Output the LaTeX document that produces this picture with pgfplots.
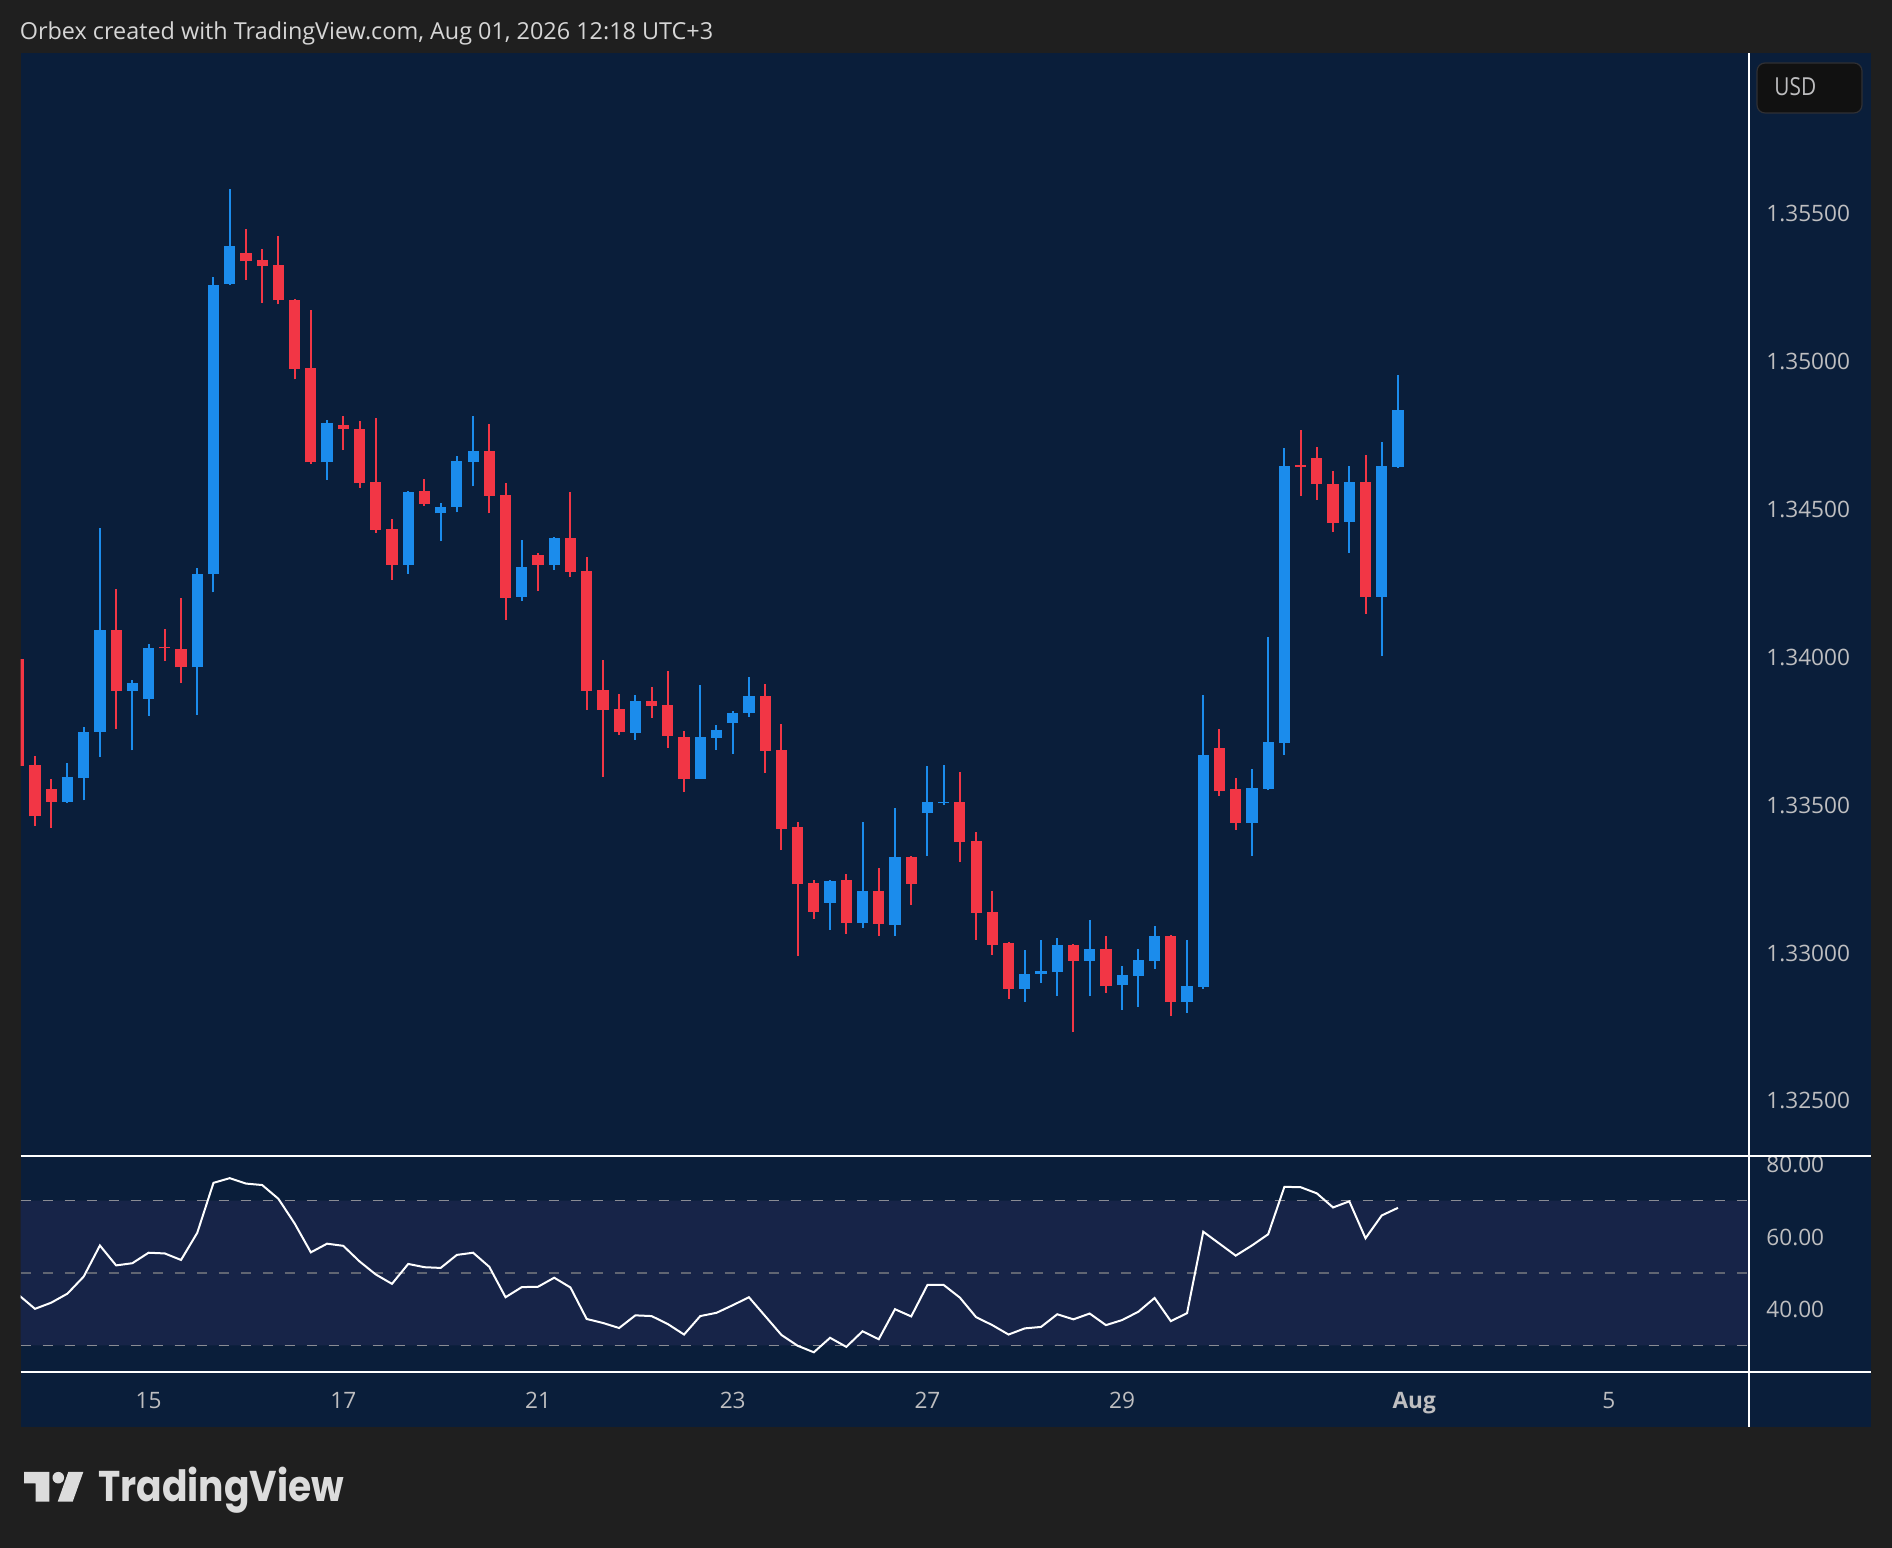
\documentclass[border=0pt]{standalone}
\usepackage{fontspec}
\setmainfont{Open Sans}
\newfontfamily\logofont{Poppins}
\usepackage{pgfplots}
\usepackage{pgfplotstable}
\pgfplotsset{compat=1.18}
\usepgfplotslibrary{fillbetween}
\pgfplotsset{/pgf/number format/assume math mode=true}

\definecolor{bgc}{RGB}{31,31,31}
\definecolor{panel}{RGB}{10,30,58}
\definecolor{band}{RGB}{23,36,72}
\definecolor{upc}{RGB}{27,140,236}
\definecolor{dnc}{RGB}{242,54,69}
\definecolor{lbl}{RGB}{190,190,192}
\definecolor{titlec}{RGB}{214,214,214}
\definecolor{dashA}{RGB}{138,140,148}
\definecolor{dashB}{RGB}{96,101,114}
\definecolor{obfill}{RGB}{18,56,62}
\definecolor{usdbg}{RGB}{17,17,17}
\definecolor{usdbd}{RGB}{48,48,52}
\definecolor{logoc}{RGB}{220,220,220}

\pgfplotstableread{
k o h l c
4 1.33510 1.33641 1.33507 1.33595
5 1.33589 1.33764 1.33515 1.33746
6 1.33747 1.34436 1.33663 1.34091
8 1.33886 1.33922 1.33684 1.33912
9 1.33859 1.34044 1.33802 1.34031
12 1.33965 1.34301 1.33805 1.34281
13 1.34282 1.35286 1.34219 1.35259
14 1.35261 1.35584 1.35258 1.35390
20 1.34658 1.34802 1.34599 1.34792
25 1.34312 1.34560 1.34282 1.34558
27 1.34486 1.34521 1.34391 1.34508
28 1.34509 1.34681 1.34489 1.34663
29 1.34661 1.34815 1.34577 1.34697
32 1.34204 1.34396 1.34190 1.34305
34 1.34312 1.34406 1.34295 1.34403
39 1.33744 1.33872 1.33720 1.33851
43 1.33588 1.33904 1.33587 1.33729
44 1.33727 1.33770 1.33686 1.33753
45 1.33777 1.33817 1.33672 1.33811
46 1.33811 1.33932 1.33797 1.33868
51 1.33168 1.33244 1.33077 1.33242
53 1.33100 1.33442 1.33083 1.33210
55 1.33093 1.33489 1.33056 1.33324
57 1.33472 1.33631 1.33326 1.33508
58 1.33506 1.33635 1.33499 1.33511
63 1.32877 1.33009 1.32833 1.32928
64 1.32928 1.33043 1.32897 1.32938
65 1.32934 1.33049 1.32853 1.33026
67 1.32972 1.33110 1.32853 1.33012
69 1.32890 1.32955 1.32806 1.32924
70 1.32921 1.33012 1.32816 1.32975
71 1.32972 1.33090 1.32945 1.33056
73 1.32833 1.33043 1.32796 1.32887
74 1.32884 1.33872 1.32877 1.33669
77 1.33439 1.33621 1.33327 1.33557
78 1.33554 1.34068 1.33550 1.33713
79 1.33709 1.34707 1.33669 1.34646
83 1.34457 1.34646 1.34352 1.34592
85 1.34203 1.34727 1.34003 1.34646
86 1.34643 1.34954 1.34640 1.34836
}\bull

\pgfplotstableread{
k o h l c
1 1.33993 1.34007 1.33618 1.33631
2 1.33635 1.33665 1.33428 1.33461
3 1.33554 1.33586 1.33423 1.33510
7 1.34091 1.34231 1.33758 1.33886
10 1.34034 1.34095 1.33988 1.34029
11 1.34027 1.34200 1.33913 1.33965
15 1.35367 1.35448 1.35275 1.35338
16 1.35344 1.35380 1.35199 1.35324
17 1.35326 1.35424 1.35193 1.35206
18 1.35208 1.35211 1.34939 1.34975
19 1.34978 1.35175 1.34654 1.34658
21 1.34785 1.34815 1.34700 1.34770
22 1.34771 1.34798 1.34573 1.34587
23 1.34592 1.34809 1.34421 1.34431
24 1.34433 1.34467 1.34262 1.34312
26 1.34562 1.34602 1.34512 1.34519
30 1.34697 1.34788 1.34486 1.34546
31 1.34548 1.34589 1.34125 1.34200
33 1.34345 1.34352 1.34223 1.34312
35 1.34403 1.34558 1.34271 1.34288
36 1.34290 1.34338 1.33821 1.33885
37 1.33887 1.33990 1.33595 1.33821
38 1.33824 1.33875 1.33736 1.33746
40 1.33851 1.33899 1.33794 1.33835
41 1.33838 1.33953 1.33693 1.33733
42 1.33731 1.33750 1.33543 1.33588
47 1.33868 1.33909 1.33608 1.33682
48 1.33685 1.33772 1.33347 1.33418
49 1.33424 1.33443 1.32989 1.33232
50 1.33234 1.33244 1.33114 1.33137
52 1.33244 1.33266 1.33063 1.33100
54 1.33208 1.33285 1.33056 1.33097
56 1.33324 1.33327 1.33162 1.33232
59 1.33510 1.33611 1.33307 1.33374
60 1.33378 1.33408 1.33043 1.33134
61 1.33137 1.33208 1.32992 1.33026
62 1.33033 1.33036 1.32843 1.32877
66 1.33026 1.33029 1.32731 1.32972
68 1.33012 1.33056 1.32863 1.32887
72 1.33056 1.33059 1.32786 1.32833
75 1.33692 1.33757 1.33530 1.33548
76 1.33554 1.33591 1.33415 1.33439
80 1.34650 1.34768 1.34545 1.34643
81 1.34673 1.34710 1.34531 1.34585
82 1.34585 1.34629 1.34423 1.34453
84 1.34592 1.34683 1.34146 1.34203
}\bear

\pgfplotstableread{
k r
1 43.9
2 40.1
3 41.8
4 44.3
5 49.0
6 57.6
7 52.1
8 52.7
9 55.6
10 55.4
11 53.6
12 61.1
13 74.9
14 76.2
15 74.7
16 74.3
17 70.5
18 63.7
19 55.7
20 58.1
21 57.5
22 53.2
23 49.6
24 47.0
25 52.5
26 51.6
27 51.4
28 55.0
29 55.6
30 51.7
31 43.3
32 46.1
33 46.2
34 48.7
35 46.0
36 37.3
37 36.2
38 34.8
39 38.3
40 38.1
41 35.9
42 33.0
43 38.1
44 39.0
45 41.1
46 43.3
47 38.1
48 32.9
49 29.9
50 28.1
51 32.1
52 29.6
53 33.9
54 31.7
55 40.0
56 38.0
57 46.7
58 46.7
59 43.2
60 37.8
61 35.6
62 33.0
63 34.7
64 35.1
65 38.6
66 37.2
67 38.8
68 35.6
69 37.0
70 39.3
71 43.1
72 36.7
73 38.9
74 61.4
75 58.1
76 54.8
77 57.6
78 60.7
79 73.8
80 73.7
81 72.0
82 68.1
83 69.8
84 59.6
85 65.9
86 68.0
}\rsi

\pgfplotsset{
  tvaxis/.style={
    anchor=south west, scale only axis, width=863.75pt,
    xmin=1.1063, xmax=107.572,
    axis line style={draw=none}, tick style={draw=none},
    yticklabel pos=right, scaled y ticks=false,
    yticklabel style={anchor=base west, inner sep=0pt, xshift=9pt, yshift=-4.2pt,
      font=\fontsize{11.3}{13}\selectfont, text=lbl},
    clip=true,
  },
  wick/.style={draw=none, forget plot, error bars/.cd, y dir=plus, y explicit,
    error mark=none, error bar style={draw=#1, line width=1pt}},
  body/.style={draw=none, forget plot, error bars/.cd, y dir=plus, y explicit,
    error mark=none, error bar style={draw=#1, line width=5.6pt}},
}

\begin{document}
\begin{tikzpicture}[x=0.5pt,y=0.5pt]
\fill[bgc] (0,0) rectangle (1892,1548);
\fill[panel] (20.5,121) rectangle (1871,1495);

% price pane
\begin{axis}[tvaxis, at={(10.25pt,196pt)}, height=551.5pt,
  ymin=1.3231196, ymax=1.360433, xtick=\empty,
  ytick={1.325,1.33,1.335,1.34,1.345,1.35,1.355},
  yticklabel style={/pgf/number format/.cd, fixed, fixed zerofill, precision=5}]
\addplot[wick=upc] table[x=k, y=l, y error expr=\thisrow{h}-\thisrow{l}] {\bull};
\addplot[wick=dnc] table[x=k, y=l, y error expr=\thisrow{h}-\thisrow{l}] {\bear};
\addplot[body=upc] table[x=k, y=o, y error expr={max(\thisrow{c}-\thisrow{o},0.00005)}] {\bull};
\addplot[body=dnc] table[x=k, y=c, y error expr={max(\thisrow{o}-\thisrow{c},0.00005)}] {\bear};
\end{axis}

% RSI pane
\begin{axis}[tvaxis, at={(10.25pt,87.85pt)}, height=108.15pt,
  ymin=22.57, ymax=82.32,
  xtick={9,21,33,45,57,69,87,99},
  xticklabels={15,17,21,23,27,29,\textbf{Aug},5},
  xticklabel style={anchor=base, inner sep=0pt, yshift=-18.1pt,
    font=\fontsize{11.3}{13}\selectfont, text=lbl},
  ytick={40,60,80},
  yticklabel style={/pgf/number format/.cd, fixed, fixed zerofill, precision=2}]
\addplot[fill=band, draw=none] coordinates {(0,30) (110,30) (110,70) (0,70) (0,30)};
\addplot[dashA, line width=0.8pt, dash pattern=on 5pt off 6pt] coordinates {(1.1063,70) (107.572,70)};
\addplot[dashB, line width=0.8pt, dash pattern=on 5pt off 6pt] coordinates {(1.1063,50) (107.572,50)};
\addplot[dashA, line width=0.8pt, dash pattern=on 5pt off 6pt] coordinates {(1.1063,30) (107.572,30)};
\addplot[name path=rsiA, draw=none] table[x=k, y=r] {\rsi};
\addplot[name path=obl, draw=none] coordinates {(1,70) (86,70)};
\addplot[obfill] fill between[of=rsiA and obl, soft clip={(1,70) rectangle (90,95)}];
\addplot[white, line width=1pt] table[x=k, y=r] {\rsi};
\end{axis}

% separators
\draw[white, line width=1pt] (20.5,392) -- (1871,392);
\draw[white, line width=1pt] (20.5,175.7) -- (1871,175.7);
\draw[white, line width=1pt] (1749,121) -- (1749,1495);

% USD box
\draw[fill=usdbg, draw=usdbd, line width=0.6pt, rounded corners=4pt] (1757,1435) rectangle (1862,1485);
\node[anchor=base west, inner sep=0pt, text=lbl, font=\fontsize{12.4}{14}\selectfont] at (1774,1452) {\scalebox{0.84}[1]{USD}};

% title
\node[anchor=base west, inner sep=0pt, text=titlec, font=\fontsize{11.7}{14}\selectfont] at (19.4,1508.7) {Orbex created with TradingView.com, Aug 01, 2026 12:18 UTC+3};

% logo
\fill[logoc] (24,76) -- (49.3,76) -- (49.3,46.3) -- (35.7,46.3) -- (35.7,64.7) -- (24,64.7) -- cycle;
\fill[logoc] (58.3,70.3) circle (5.8);
\fill[logoc] (68.3,76) -- (83.3,76) -- (72.7,46.3) -- (57.7,46.3) -- cycle;
\node[anchor=base west, inner sep=0pt, text=logoc, font=\logofont\bfseries\fontsize{21.5}{24}\selectfont] at (98,46.3) {\scalebox{0.875}[1]{TradingView}};

\pgfresetboundingbox
\path[use as bounding box] (0,0) rectangle (1892,1548);
\end{tikzpicture}
\end{document}
